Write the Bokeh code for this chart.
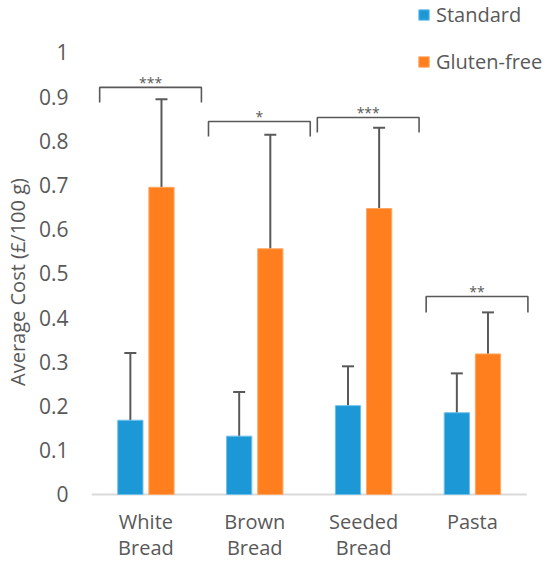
from bokeh.plotting import figure
from bokeh.models import (ColumnDataSource, Whisker, TeeHead, FixedTicker, Range1d,
                          Legend, LegendItem)
from bokeh.core.properties import value
from bokeh.embed import file_html
from bokeh.resources import INLINE

# ---- data ----
categories = ["White\nBread", "Brown\nBread", "Seeded\nBread", "Pasta"]
standard_mean = [0.168, 0.132, 0.201, 0.185]
standard_upper = [0.320, 0.232, 0.290, 0.274]
standard_lower = [0.017, 0.035, 0.115, 0.098]
glutenfree_mean = [0.695, 0.556, 0.647, 0.318]
glutenfree_upper = [0.894, 0.814, 0.830, 0.412]
glutenfree_lower = [0.493, 0.300, 0.465, 0.225]
sig_labels = ["***", "*", "***", "**"]
bracket_top = [0.921, 0.844, 0.853, 0.448]
bracket_end = [0.887, 0.810, 0.819, 0.412]
y_ticks = [0, 0.1, 0.2, 0.3, 0.4, 0.5, 0.6, 0.7, 0.8, 0.9, 1]
y_tick_labels = ["0", "0.1", "0.2", "0.3", "0.4", "0.5", "0.6", "0.7", "0.8", "0.9", "1"]

# ---- style ----
FONT = "Open Sans"
GREY = "#595959"
BLUE = "#1b98d5"
ORANGE = "#ff7f1f"
OFF = 0.143
BW = 0.232

n = len(categories)
centers = [i + 0.5 for i in range(n)]

p = figure(width=547, height=556, output_backend="svg", toolbar_location=None,
           x_range=Range1d(0, n + 0.19), y_range=Range1d(-0.1403, 1.1018),
           min_border_left=87, min_border_right=0, min_border_top=7, min_border_bottom=0)
p.outline_line_color = None
p.grid.visible = False
p.background_fill_color = "white"

src_s = ColumnDataSource(dict(x=[c - OFF for c in centers], top=standard_mean,
                              upper=standard_upper, lower=standard_lower))
src_g = ColumnDataSource(dict(x=[c + OFF for c in centers], top=glutenfree_mean,
                              upper=glutenfree_upper, lower=glutenfree_lower))

# baseline (category axis line)
p.segment(x0=[0], x1=[n], y0=[0], y1=[0], line_color="#d9d9d9", line_width=2)

r_s = p.vbar(x="x", top="top", bottom=0, width=BW, source=src_s, fill_color=BLUE,
             line_color="#6fc0ea", line_width=1)
r_g = p.vbar(x="x", top="top", bottom=0, width=BW, source=src_g, fill_color=ORANGE,
             line_color="#ffa865", line_width=1)

for src in (src_s, src_g):
    w = Whisker(base="x", upper="upper", lower="lower", source=src,
                line_color=GREY, line_width=2,
                upper_head=TeeHead(size=12, line_color=GREY, line_width=2),
                lower_head=TeeHead(size=12, line_color=GREY, line_width=2))
    p.add_layout(w)

# significance brackets
bl = [i + 0.075 for i in range(n)]
br = [i + 1.01 for i in range(n)]
xs = [[a, a, b, b] for a, b in zip(bl, br)]
ys = [[e, t, t, e] for t, e in zip(bracket_top, bracket_end)]
p.multi_line(xs=xs, ys=ys, line_color=GREY, line_width=1.6)
p.text(x=[(a + b) / 2 for a, b in zip(bl, br)], y=bracket_top, text=sig_labels,
       text_font=value(FONT), text_font_size="14px", text_color=GREY,
       text_align="center", text_baseline="alphabetic", y_offset=-5)

# axes
p.xaxis.fixed_location = 0
p.xaxis.ticker = FixedTicker(ticks=centers)
p.xaxis.major_label_overrides = {c: lab for c, lab in zip(centers, categories)}
p.xaxis.axis_line_color = None
p.xaxis.major_tick_line_color = None
p.xaxis.minor_tick_line_color = None
p.xaxis.major_tick_out = 0
p.xaxis.major_tick_in = 0
p.xaxis.major_label_standoff = 14
p.xaxis.major_label_text_font = FONT
p.xaxis.major_label_text_font_size = "20px"
p.xaxis.major_label_text_line_height = 0.93
p.xaxis.major_label_text_color = GREY

p.yaxis.bounds = (0, 1)
p.yaxis.ticker = FixedTicker(ticks=y_ticks)
p.yaxis.major_label_overrides = {t: lab for t, lab in zip(y_ticks, y_tick_labels)}
p.yaxis.axis_line_color = None
p.yaxis.major_tick_line_color = None
p.yaxis.minor_tick_line_color = None
p.yaxis.major_tick_out = 0
p.yaxis.major_tick_in = 0
p.yaxis.major_label_standoff = 23
p.yaxis.major_label_text_font = FONT
p.yaxis.major_label_text_font_size = "21px"
p.yaxis.major_label_text_color = GREY
p.yaxis.axis_label = "Average Cost (£/100 g)"
p.yaxis.axis_label_text_font = FONT
p.yaxis.axis_label_text_font_size = "20px"
p.yaxis.axis_label_text_font_style = "normal"
p.yaxis.axis_label_text_color = GREY
p.yaxis.axis_label_standoff = 5

legend = Legend(items=[LegendItem(label="Standard", renderers=[r_s]),
                       LegendItem(label="Gluten-free", renderers=[r_g])],
                location=(326, 481), orientation="vertical",
                glyph_width=13, glyph_height=13, label_height=20, spacing=20,
                label_standoff=6, padding=0, margin=0,
                label_text_font=FONT, label_text_font_size="20px",
                label_text_color=GREY, border_line_color=None,
                background_fill_alpha=0)
p.add_layout(legend, "center")

open("out.html", "w").write(file_html(p, INLINE))
